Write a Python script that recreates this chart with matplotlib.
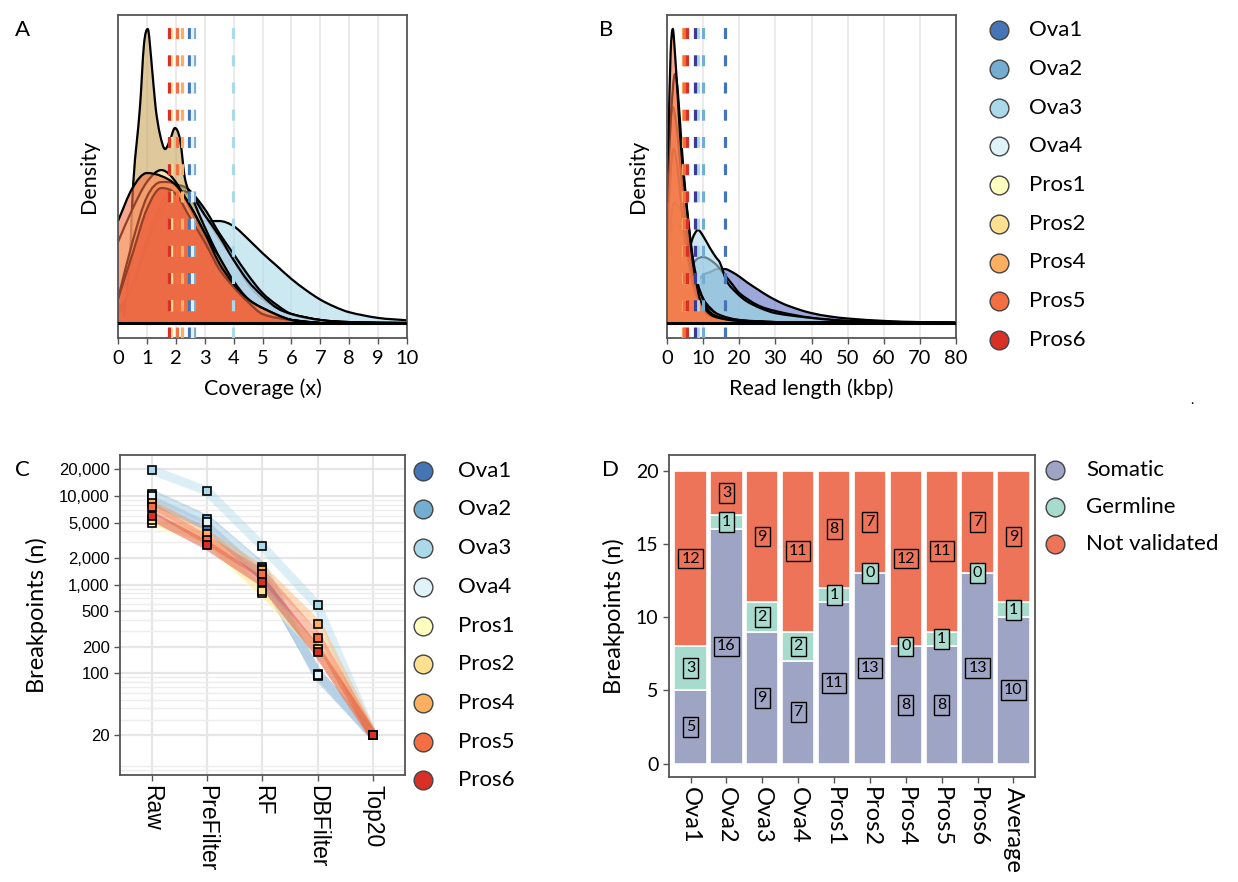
import matplotlib
matplotlib.use("Agg")
import matplotlib.pyplot as plt
import numpy as np
from matplotlib.path import Path
from matplotlib.patches import PathPatch
from matplotlib.lines import Line2D

plt.rcParams['font.family'] = ['Lato', 'DejaVu Sans']
plt.rcParams['lines.scale_dashes'] = False

W, H = 1238, 882

samples = ['Ova1', 'Ova2', 'Ova3', 'Ova4', 'Pros1', 'Pros2', 'Pros4', 'Pros5', 'Pros6']
colors = ['#4575b4', '#74add1', '#abd9e9', '#e0f3f8', '#ffffbf', '#fee090', '#fdae61', '#f46d43', '#d73027']
col = dict(zip(samples, colors))

# --- A: coverage densities (x, density) ---
cov_x = {
    'Ova3': [0, 0.5, 1, 1.5, 2, 2.5, 3, 3.5, 4, 4.5, 5, 5.5, 6, 6.5, 7, 7.5, 8, 9, 10],
    'Ova1': [0, 0.5, 1, 1.5, 2, 2.5, 3, 3.5, 4, 4.5, 5, 5.5, 6, 7, 8, 10],
    'Ova2': [0, 0.5, 1, 1.5, 2, 2.5, 3, 3.5, 4, 4.5, 5, 5.5, 6, 7, 8, 10],
    'Ova4': [0, 0.5, 1, 1.5, 2, 2.5, 3, 3.5, 4, 4.5, 5, 5.5, 6, 7, 8, 10],
    'Pros2': [0.2, 0.4, 0.53, 0.76, 0.9, 1.03, 1.15, 1.3, 1.45, 1.63, 1.8, 1.97, 2.15, 2.32, 2.6, 3, 3.5, 4, 4.5, 5, 6, 7],
    'Pros1': [0, 0.5, 1, 1.5, 2, 2.5, 3, 3.5, 4, 4.5, 5, 6, 7],
    'Pros4': [0, 0.5, 1, 1.5, 2, 2.5, 3, 3.5, 4, 4.5, 5, 6, 7],
    'Pros5': [0, 0.5, 1, 1.5, 2, 2.5, 3, 3.5, 4, 4.5, 5, 6, 7],
    'Pros6': [0, 0.5, 1, 1.5, 2, 2.5, 3, 3.5, 4, 4.5, 5, 6, 7],
}
cov_y = {
    'Ova3': [0.050, 0.100, 0.167, 0.227, 0.283, 0.323, 0.340, 0.340, 0.323, 0.280, 0.233, 0.190, 0.147, 0.110, 0.078, 0.054, 0.036, 0.017, 0.009],
    'Ova1': [0.03, 0.13, 0.28, 0.40, 0.46, 0.44, 0.36, 0.28, 0.21, 0.13, 0.08, 0.05, 0.03, 0.01, 0.003, 0.0],
    'Ova2': [0.02, 0.10, 0.23, 0.35, 0.43, 0.43, 0.38, 0.30, 0.23, 0.16, 0.10, 0.06, 0.03, 0.01, 0.003, 0.0],
    'Ova4': [0.03, 0.12, 0.26, 0.37, 0.44, 0.43, 0.36, 0.29, 0.21, 0.14, 0.09, 0.05, 0.03, 0.01, 0.003, 0.0],
    'Pros2': [0.02, 0.20, 0.47, 0.72, 0.93, 0.98, 0.88, 0.72, 0.63, 0.58, 0.61, 0.65, 0.61, 0.48, 0.41, 0.32, 0.22, 0.13, 0.07, 0.03, 0.01, 0.0],
    'Pros1': [0.27, 0.38, 0.47, 0.51, 0.47, 0.38, 0.28, 0.19, 0.12, 0.07, 0.03, 0.01, 0.0],
    'Pros4': [0.08, 0.27, 0.42, 0.47, 0.46, 0.39, 0.30, 0.22, 0.14, 0.08, 0.05, 0.01, 0.0],
    'Pros5': [0.34, 0.45, 0.50, 0.49, 0.46, 0.39, 0.30, 0.20, 0.13, 0.08, 0.05, 0.01, 0.0],
    'Pros6': [0.08, 0.23, 0.38, 0.45, 0.43, 0.35, 0.27, 0.18, 0.12, 0.07, 0.03, 0.01, 0.0],
}
cov_mean = {'Ova1': 2.47, 'Ova2': 2.64, 'Ova3': 3.99, 'Ova4': 2.55, 'Pros1': 1.83,
            'Pros2': 1.85, 'Pros4': 2.21, 'Pros5': 2.03, 'Pros6': 1.76}

# --- B: read length densities (kbp, density) ---
len_x = {
    'Ova1': [0, 2, 4, 6, 8, 10, 12, 14, 16, 18, 20, 22, 25, 28, 32, 36, 40, 45, 50, 60, 70, 80],
    'Ova2': [0, 2, 4, 6, 8, 10, 12, 14, 16, 18, 20, 25, 30, 40, 50, 60, 80],
    'Ova3': [0, 2, 4, 6, 7, 8.6, 10, 11.9, 13.5, 14.7, 16.5, 19.3, 22, 25.8, 30, 40, 50, 80],
    'Ova4': [0, 1, 2, 3, 4, 5, 6, 7, 8, 10, 12, 15, 20, 30, 40, 80],
    'Pros1': [0, 1, 2, 3, 4, 5, 6, 7, 8, 9, 11, 14, 20, 30, 80],
    'Pros2': [0, 1, 1.8, 2.5, 3.5, 4.5, 5.5, 6.5, 7.5, 9, 11, 14, 20, 30, 80],
    'Pros4': [0, 1, 2.2, 3, 4, 5, 6, 7, 8, 9, 11, 13, 16, 20, 30, 80],
    'Pros5': [0, 0.4, 1, 1.6, 2.2, 3, 3.6, 4.5, 5.4, 6.5, 7.3, 8.2, 9.1, 11, 12.8, 16, 20, 30, 40, 80],
    'Pros6': [0, 1, 1.6, 2.5, 3.5, 4.5, 5.5, 6.5, 7.5, 9, 11, 14, 20, 30, 80],
}
len_y = {
    'Ova1': [0.01, 0.03, 0.06, 0.10, 0.13, 0.16, 0.17, 0.18, 0.18, 0.17, 0.155, 0.137, 0.113, 0.09, 0.065, 0.047, 0.033, 0.022, 0.015, 0.007, 0.003, 0.002],
    'Ova2': [0.01, 0.04, 0.10, 0.17, 0.21, 0.22, 0.21, 0.19, 0.16, 0.13, 0.10, 0.06, 0.04, 0.017, 0.007, 0.003, 0.0],
    'Ova3': [0.01, 0.05, 0.13, 0.23, 0.28, 0.31, 0.29, 0.25, 0.22, 0.20, 0.14, 0.10, 0.073, 0.05, 0.033, 0.017, 0.007, 0.0],
    'Ova4': [0.17, 0.28, 0.33, 0.33, 0.30, 0.26, 0.22, 0.17, 0.13, 0.08, 0.05, 0.02, 0.01, 0.003, 0.002, 0.0],
    'Pros1': [0.20, 0.33, 0.40, 0.39, 0.37, 0.32, 0.27, 0.21, 0.15, 0.11, 0.06, 0.03, 0.01, 0.003, 0.0],
    'Pros2': [0.27, 0.50, 0.58, 0.55, 0.45, 0.33, 0.24, 0.17, 0.11, 0.07, 0.03, 0.017, 0.007, 0.003, 0.0],
    'Pros4': [0.40, 0.67, 0.83, 0.77, 0.60, 0.45, 0.33, 0.23, 0.16, 0.11, 0.05, 0.027, 0.013, 0.007, 0.003, 0.0],
    'Pros5': [0.50, 0.63, 0.90, 0.98, 0.90, 0.75, 0.63, 0.50, 0.39, 0.27, 0.19, 0.13, 0.08, 0.04, 0.023, 0.013, 0.007, 0.003, 0.002, 0.0],
    'Pros6': [0.47, 0.67, 0.72, 0.67, 0.55, 0.42, 0.30, 0.21, 0.14, 0.08, 0.04, 0.02, 0.007, 0.003, 0.0],
}
len_mean = {'Ova1': 16.1, 'Ova2': 9.9, 'Ova3': 8.7, 'Ova4': 7.8, 'Pros1': 5.0,
            'Pros2': 4.9, 'Pros4': 4.35, 'Pros5': 4.6, 'Pros6': 5.6}
len_mean_color = dict(col, Ova4='#3b3a96')

# --- C: breakpoints per filtering step ---
stages = ['Raw', 'PreFilter', 'RF', 'DBFilter', 'Top20']
bp = {
    'Ova1': [8980, 4570, 1250, 99, 20],
    'Ova2': [10500, 5450, 1590, 93, 20],
    'Ova3': [19600, 11400, 2720, 582, 20],
    'Ova4': [10000, 5100, 1500, 96, 20],
    'Pros1': [4980, 3000, 807, 185, 20],
    'Pros2': [5340, 3320, 851, 190, 20],
    'Pros4': [8240, 3680, 1460, 355, 20],
    'Pros5': [7430, 3200, 1310, 250, 20],
    'Pros6': [5930, 2790, 1075, 175, 20],
}
bp_ticks = [20, 100, 200, 500, 1000, 2000, 5000, 10000, 20000]

# --- D: validation of top 20 ---
d_cats = ['Ova1', 'Ova2', 'Ova3', 'Ova4', 'Pros1', 'Pros2', 'Pros4', 'Pros5', 'Pros6', 'Average']
somatic = [5, 16, 9, 7, 11, 13, 8, 8, 13, 10]
germline = [3, 1, 2, 2, 1, 0, 0, 1, 0, 1]
not_valid = [12, 3, 9, 11, 8, 7, 12, 11, 7, 9]
d_groups = ['Somatic', 'Germline', 'Not validated']
d_colors = ['#9ea4c3', '#a7dbcd', '#ee7459']


def rect(l, t, r, b):
    return [l / W, 1 - b / H, (r - l) / W, (b - t) / H]


def smooth(x, y, close=False):
    # cubic Hermite through the read points, drawn as Bezier segments
    x = np.asarray(x, float)
    y = np.asarray(y, float)
    d = np.diff(y) / np.diff(x)
    m = np.empty_like(y)
    m[0], m[-1] = d[0], d[-1]
    m[1:-1] = (y[2:] - y[:-2]) / (x[2:] - x[:-2])
    m[1:-1][d[:-1] * d[1:] <= 0] = 0
    verts = [(x[0], y[0])]
    codes = [Path.MOVETO]
    for i in range(len(x) - 1):
        h = x[i + 1] - x[i]
        verts += [(x[i] + h / 3, y[i] + m[i] * h / 3),
                  (x[i + 1] - h / 3, y[i + 1] - m[i + 1] * h / 3),
                  (x[i + 1], y[i + 1])]
        codes += [Path.CURVE4] * 3
    if close:
        verts += [(x[-1], 0), (x[0], 0), (x[0], 0)]
        codes += [Path.LINETO, Path.LINETO, Path.CLOSEPOLY]
    return Path(verts, codes)


def frame(ax):
    for s in ax.spines.values():
        s.set_color('#555555')
        s.set_linewidth(1.3)
    ax.tick_params(color='#555555', length=4, width=1, labelcolor='black')


fig = plt.figure(figsize=(W / 100, H / 100), dpi=100)


def density_panel(box, xs, ys, means, mcolors, order, fills, xmax, ticks, xlabel):
    ax = fig.add_axes(rect(*box))
    for s in order:
        fc = fills.get(s, col[s])
        ax.add_patch(PathPatch(smooth(xs[s], ys[s], close=True), fc=fc, ec='none', alpha=0.6))
        ax.add_patch(PathPatch(smooth(xs[s], ys[s]), fc='none', ec='black', lw=1.6))
    ax.axhline(0, color='black', lw=2.2, zorder=3)
    for s in samples:
        ln = ax.axvline(means[s], color=mcolors[s], lw=2.3, zorder=4)
        ln.set_dashes([7.9, 11.7])
    ax.set_xlim(0, xmax)
    ax.set_ylim(-0.05, 1.027)
    ax.set_xticks(ticks)
    ax.set_yticks([])
    ax.grid(axis='x', color='#ebebeb', lw=1.5)
    ax.set_axisbelow(True)
    frame(ax)
    ax.tick_params(axis='x', labelsize=14.5, pad=5)
    ax.set_xlabel(xlabel, fontsize=15.5, labelpad=8)
    ax.set_ylabel('Density', fontsize=15.5, labelpad=14)
    return ax


order_a = ['Ova3', 'Ova1', 'Ova2', 'Ova4', 'Pros2', 'Pros1', 'Pros4', 'Pros6', 'Pros5']
density_panel((118, 15, 407, 338), cov_x, cov_y, cov_mean, col, order_a,
              {'Pros2': '#c9a45a'}, 10, range(0, 11), 'Coverage (x)')
order_b = ['Ova1', 'Ova2', 'Ova3', 'Ova4', 'Pros1', 'Pros2', 'Pros6', 'Pros4', 'Pros5']
density_panel((667, 15, 956, 338), len_x, len_y, len_mean, len_mean_color, order_b,
              {'Ova1': '#5b6fc0'}, 80, range(0, 81, 10), 'Read length (kbp)')

# --- C ---
axc = fig.add_axes(rect(120, 455, 405, 775))
xpos = np.arange(1, len(stages) + 1)
for s in samples:
    axc.plot(xpos, bp[s], color=col[s], lw=6.5, alpha=0.4, solid_capstyle='round', zorder=2)
for s in samples:
    axc.plot(xpos, bp[s], ls='none', marker='s', ms=6, mfc=col[s], mec='black', mew=1.2, zorder=3)
axc.set_yscale('log')
axc.set_ylim(7.1, 29000)
axc.set_xlim(0.43, 5.58)
axc.set_yticks(bp_ticks)
axc.set_yticklabels([f'{v:,}' for v in bp_ticks], family=['Liberation Sans'], fontsize=12)
axc.set_xticks(xpos)
axc.set_xticklabels(stages, rotation=270, family=['Liberation Sans'], fontsize=16.5, va='top')
axc.grid(which='major', color='#e6e6e6', lw=1.6)
axc.grid(which='minor', axis='y', color='#ededed', lw=1.0)
axc.set_axisbelow(True)
frame(axc)
axc.tick_params(which='minor', length=0)
axc.set_ylabel('Breakpoints (n)', fontsize=17, labelpad=8)

# --- D ---
axd = fig.add_axes(rect(669, 455, 1035, 777))
dx = np.arange(1, len(d_cats) + 1)
bottom = np.zeros(len(d_cats))
for vals, c in zip([somatic, germline, not_valid], d_colors):
    vals = np.array(vals)
    axd.bar(dx, vals, bottom=bottom, width=0.9, color=c, edgecolor='white', lw=1.2)
    for xi, b, v in zip(dx, bottom, vals):
        axd.text(xi, b + v / 2, str(v), ha='center', va='center', fontsize=11.5,
                 bbox=dict(boxstyle='square,pad=0.18', fc=c, ec='black', lw=1))
    bottom = bottom + vals
axd.set_xlim(0.4, 10.6)
axd.set_ylim(-0.92, 21.07)
axd.set_yticks([0, 5, 10, 15, 20])
axd.set_xticks(dx)
axd.set_xticklabels(d_cats, rotation=270, fontsize=17, va='top')
axd.tick_params(axis='y', labelsize=14)
frame(axd)
axd.set_ylabel('Breakpoints (n)', fontsize=17, labelpad=8)


# --- legends ---
def fx(x):
    return x / W


def fy(y):
    return 1 - y / H


def legend(x0, y0, step, labels, cols, tx):
    for i, (lab, c) in enumerate(zip(labels, cols)):
        y = y0 + i * step
        fig.add_artist(Line2D([fx(x0)], [fy(y)], marker='o', ms=13.5, mfc=c, mec='#444444',
                              mew=1, ls='none', transform=fig.transFigure))
        fig.text(fx(tx), fy(y), lab, va='center', ha='left', fontsize=16)


legend(999, 30, 38.75, samples, colors, 1029)
legend(423, 470.7, 38.7, samples, colors, 458)
legend(1055, 470, 37.2, d_groups, d_colors, 1086)

for lab, x, y in [('A', 22, 30), ('B', 606, 30), ('C', 22, 470), ('D', 610, 470)]:
    fig.text(fx(x), fy(y), lab, fontsize=16, ha='center', va='center')
fig.text(fx(1192), fy(400), '.', fontsize=10, ha='center', va='center')

fig.savefig('out.png', dpi=100)
